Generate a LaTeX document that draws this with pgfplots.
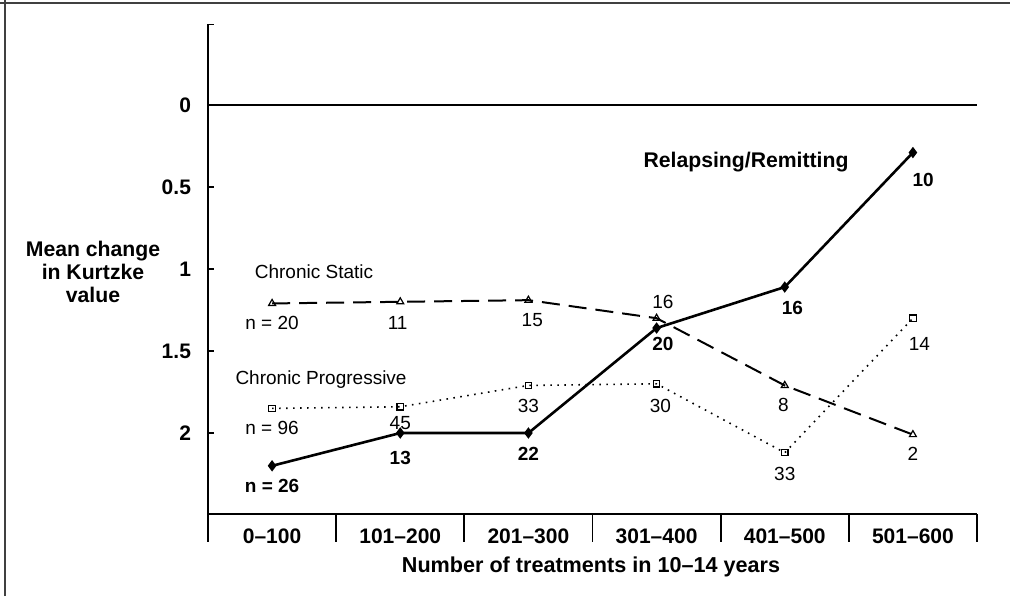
\documentclass[border=0pt]{standalone}
\usepackage{fontspec}
\setmainfont{Liberation Sans}
\usepackage{pgfplots}
\pgfplotsset{compat=1.18}
\begin{document}
\begin{tikzpicture}
\path[use as bounding box] (0,0) rectangle (505pt,298pt);
\draw[line width=0.9pt, black!75] (0,296.5pt) -- (505pt,296.5pt);
\draw[line width=0.9pt, black!75] (2.5pt,0) -- (2.5pt,298pt);
\begin{axis}[
  at={(104pt,41pt)}, anchor=south west,
  scale only axis, width=384.5pt, height=245pt,
  xmin=-0.5, xmax=5.5, ymin=-0.494, ymax=2.494,
  y dir=reverse,
  axis line style={draw=none},
  xtick={0,...,5},
  xticklabels={0--100,101--200,201--300,301--400,401--500,501--600},
  xtick style={draw=none},
  xticklabel style={font=\fontsize{10.5}{12}\selectfont\bfseries, yshift=-4pt},
  ytick={0,0.5,1,1.5,2},
  yticklabels={0,0.5,1,1.5,2},
  ytick pos=left,
  extra y ticks={-0.49}, extra y tick labels={},
  tick align=inside, major tick length=3pt,
  every tick/.style={black, line width=0.8pt},
  yticklabel style={font=\fontsize{10.5}{12}\selectfont\bfseries, xshift=-5pt},
  clip=false,
]
% frame lines of the axis
\draw[line width=0.9pt] (axis cs:-0.5,-0.494) -- (axis cs:-0.5,2.494) -- (axis cs:5.5,2.494);
\pgfplotsinvokeforeach{-0.5,0.5,1.5,2.5,3.5,4.5,5.5}{
  \draw[line width=0.9pt] (axis cs:#1,2.494) -- ([yshift=-14pt]axis cs:#1,2.494);
}
% zero line
\addplot[black, line width=0.8pt, forget plot] coordinates {(-0.5,0) (5.5,0)};
% Relapsing/Remitting
\addplot[black, line width=1.3pt, mark=diamond*, mark size=1.8pt]
  coordinates {(0,2.20) (1,2.00) (2,2.00) (3,1.36) (4,1.11) (5,0.29)};
% Chronic Static
\addplot[black, line width=1pt, dash pattern=on 9pt off 4.5pt, mark=triangle, mark size=2pt, mark options={solid, line width=0.6pt}]
  coordinates {(0,1.21) (1,1.20) (2,1.19) (3,1.30) (4,1.71) (5,2.01)};
% Chronic Progressive
\addplot[black, line width=0.8pt, dash pattern=on 0.8pt off 2.7pt, mark=square, mark size=1.6pt, mark options={solid, line width=0.6pt}]
  coordinates {(0,1.85) (1,1.84) (2,1.71) (3,1.70) (4,2.12) (5,1.30)};

% series names
\node[font=\fontsize{9.5}{11}\selectfont] at (axis cs:0.327,1.018) {Chronic Static};
\node[font=\fontsize{9.5}{11}\selectfont] at (axis cs:0.382,1.677) {Chronic Progressive};
\node[font=\fontsize{10.6}{12}\selectfont\bfseries] at (axis cs:3.698,0.348) {Relapsing/Remitting};

% Chronic Static n
\begin{scope}[every node/.style={font=\fontsize{9.5}{11}\selectfont}]
\node at (axis cs:0,1.33) {n = 20};
\node at (axis cs:0.98,1.33) {11};
\node at (axis cs:2.03,1.31) {15};
\node at (axis cs:3.05,1.20) {16};
\node at (axis cs:3.99,1.83) {8};
\node at (axis cs:5.0,2.13) {2};
% Chronic Progressive n
\node at (axis cs:0,1.97) {n = 96};
\node at (axis cs:1.0,1.94) {45};
\node at (axis cs:2.0,1.835) {33};
\node at (axis cs:3.03,1.835) {30};
\node at (axis cs:4.0,2.25) {33};
\node at (axis cs:5.05,1.46) {14};
\end{scope}
% Relapsing n
\begin{scope}[every node/.style={font=\fontsize{9.5}{11}\selectfont\bfseries}]
\node at (axis cs:0,2.32) {n = 26};
\node at (axis cs:1.0,2.15) {13};
\node at (axis cs:2.0,2.13) {22};
\node at (axis cs:3.05,1.46) {20};
\node at (axis cs:4.06,1.24) {16};
\node at (axis cs:5.08,0.46) {10};
\end{scope}
\end{axis}
\node[font=\fontsize{10.6}{11.3}\selectfont\bfseries, align=center] at (46.5pt,162pt) {Mean change\\in Kurtzke\\value};
\node[font=\fontsize{10.8}{12}\selectfont\bfseries] at (295.5pt,14.5pt) {Number of treatments in 10--14 years};
\end{tikzpicture}
\end{document}
